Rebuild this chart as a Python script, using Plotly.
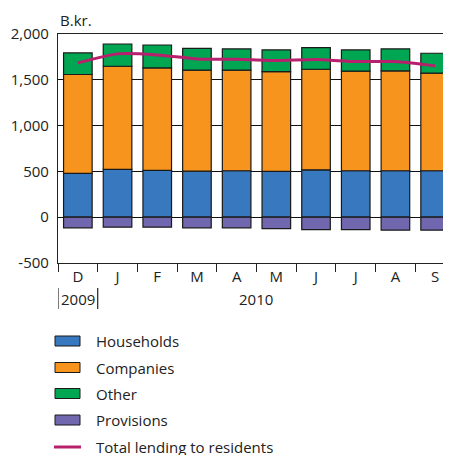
"""Lending to residents by sector — stacked bars with total line."""

import plotly.graph_objects as go

months = ["D", "J", "F", "M", "A", "M", "J", "J", "A", "S"]
years = ["2009", "2010"]

households = [478, 522, 511, 503, 507, 500, 517, 507, 507, 507]
companies = [1080, 1126, 1119, 1102, 1098, 1090, 1098, 1087, 1091, 1065]
other = [235, 243, 250, 239, 232, 236, 236, 232, 239, 218]
provisions = [-116, -109, -109, -116, -116, -124, -135, -135, -141, -141]
total_lending = [1685, 1783, 1772, 1728, 1724, 1710, 1721, 1699, 1699, 1652]

y_ticks = [-500, 0, 500, 1000, 1500, 2000]

# category keys must be unique, repeated month letters get zero-width suffixes
keys = []
for m in months:
    k = m
    while k in keys:
        k += "\u200b"
    keys.append(k)

# the page body has an 8px margin, so the figure starts at (8, 8)
OFF = 8
W, H = 451 - OFF, 455 - OFF
# plot area in page pixels: x 58..451, y 34..263
L, R, T, B = 58 - OFF, 0, 34 - OFF, 455 - 263
PW, PH = W - L - R, H - T - B

FONT = "Open Sans"
TXT = "#222222"
EDGE = "#1a1a1a"


def px_x(px):
    # page pixel -> paper x
    return (px - OFF - L) / PW


def px_y(py):
    # page pixel -> paper y
    return (T + PH - (py - OFF)) / PH


def label(text, x, y, xref="paper", xanchor="left"):
    return dict(
        text=text, xref=xref, yref="paper", x=x, y=y,
        xanchor=xanchor, yanchor="middle", showarrow=False,
        font=dict(family=FONT, size=15, color=TXT),
    )


bar_series = [
    ("Households", households, "#3878BE"),
    ("Companies", companies, "#F7941D"),
    ("Other", other, "#00A651"),
    ("Provisions", provisions, "#7067AF"),
]
line_name = "Total lending to residents"
line_color = "#B7206C"

fig = go.Figure()

for name, vals, color in bar_series:
    fig.add_trace(
        go.Bar(
            x=keys, y=vals, name=name,
            marker=dict(color=color, line=dict(color=EDGE, width=1.2)),
        )
    )

fig.add_trace(
    go.Scatter(
        x=keys, y=total_lending, name=line_name, mode="lines",
        line=dict(color=line_color, width=3, shape="spline", smoothing=0.5),
    )
)

# manual legend, stacked below the chart
shapes = []
annotations = []
rows = [341, 367.5, 393.5, 420, 447]
for (name, _, color), ry in zip(bar_series, rows):
    shapes.append(dict(
        type="rect", xref="paper", yref="paper",
        x0=px_x(55), x1=px_x(80), y0=px_y(ry - 5), y1=px_y(ry + 5),
        fillcolor=color, line=dict(color=EDGE, width=1),
    ))
    annotations.append(label(name, px_x(94), px_y(ry)))
shapes.append(dict(
    type="line", xref="paper", yref="paper",
    x0=px_x(54), x1=px_x(81), y0=px_y(rows[-1]), y1=px_y(rows[-1]),
    line=dict(color=line_color, width=3),
))
annotations.append(label(line_name, px_x(94), px_y(rows[-1])))

# year row
for xv in (-0.5, 0.5):
    shapes.append(dict(
        type="line", xref="x", yref="paper", x0=xv, x1=xv,
        y0=px_y(288), y1=px_y(309), line=dict(color=TXT, width=1.2),
    ))
annotations.append(label(years[0], 0, px_y(299), xref="x", xanchor="center"))
annotations.append(label(years[1], 4.5, px_y(299), xref="x", xanchor="center"))

annotations.append(label("B.kr.", 0, px_y(20)))

fig.update_layout(
    width=W, height=H,
    margin=dict(l=L, r=R, t=T, b=B, pad=0),
    barmode="relative",
    bargap=0.28,
    showlegend=False,
    plot_bgcolor="white",
    paper_bgcolor="white",
    font=dict(family=FONT, size=15, color=TXT),
    shapes=shapes,
    annotations=annotations,
    xaxis=dict(
        type="category",
        range=[-0.5, 9.4],
        tickmode="array", tickvals=keys, ticktext=months,
        tickson="boundaries",
        ticks="outside", ticklen=8, tickcolor=TXT, tickwidth=1.2,
        showline=True, linecolor=TXT, linewidth=1.2, mirror=True,
        showgrid=False,
        tickfont=dict(family=FONT, size=15, color=TXT),
    ),
    yaxis=dict(
        range=[-500, 2000],
        tickvals=y_ticks,
        ticktext=[f"{v:,}" for v in y_ticks],
        showline=True, linecolor=TXT, linewidth=1.2,
        showgrid=True, gridcolor="#111111", gridwidth=1,
        zeroline=True, zerolinecolor="#111111", zerolinewidth=1,
        ticks="", ticklabelstandoff=5,
        tickfont=dict(family=FONT, size=15, color=TXT),
    ),
)

fig.write_html("out.html")
